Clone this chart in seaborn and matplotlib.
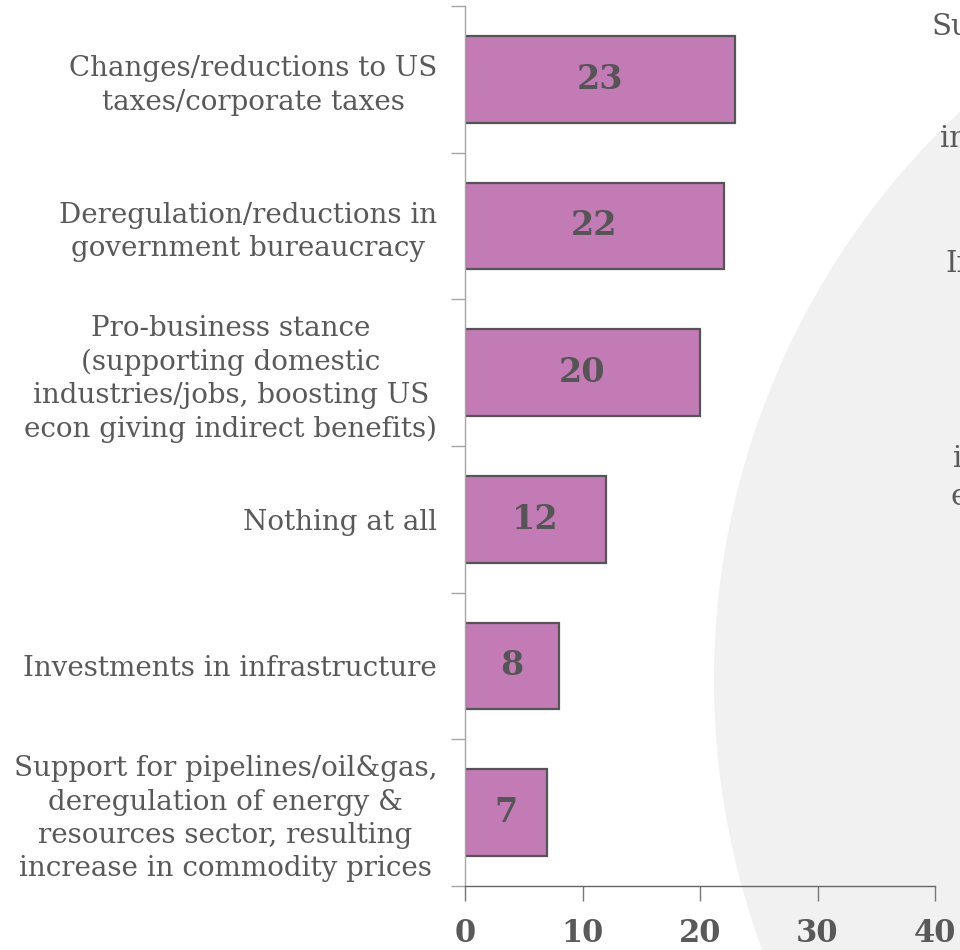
import matplotlib
matplotlib.use("Agg")
import matplotlib.pyplot as plt
from matplotlib.patches import Ellipse
from matplotlib.ticker import FixedLocator
import seaborn as sns
import numpy as np

# --- data ---
categories = [
    "Changes/reductions to US\ntaxes/corporate taxes",
    "Deregulation/reductions in\ngovernment bureaucracy",
    "Pro-business stance\n(supporting domestic\nindustries/jobs, boosting US\necon giving indirect benefits)",
    "Nothing at all",
    "Investments in infrastructure",
    "Support for pipelines/oil&gas,\nderegulation of energy &\nresources sector, resulting\nincrease in commodity prices",
]
values = [23, 22, 20, 12, 8, 7]
x_ticks = [0, 10, 20, 30, 40]

# cut-off labels of the neighbouring chart at the right edge
edge_fragments = ["Su", "in", "In", "i", "e"]

BAR = "#c27bb5"
EDGE = "#555555"
TEXT = "#595959"

sns.set_style("white")
plt.rcParams["font.family"] = ["DejaVu Serif"]

fig = plt.figure(figsize=(9.6, 9.5), dpi=100)
ax = fig.add_axes([465 / 960, 1 - 886 / 950, 470 / 960, 880 / 950])
ax.set_facecolor("none")

# big light grey disc in the background, right side
W, H = 960, 950
disc = Ellipse((1494 / W, 1 - 680 / H), 2 * 780 / W, 2 * 780 / H,
               transform=fig.transFigure, facecolor="#f1f1f1",
               edgecolor="none", zorder=-5)
fig.add_artist(disc)

sns.barplot(x=values, y=categories, orient="h", color=BAR, saturation=1,
            edgecolor=EDGE, linewidth=1.6, width=0.59, ax=ax)

ax.bar_label(ax.containers[0], label_type="center", fontsize=24,
             fontweight="bold", color=EDGE)

ax.set_xlim(0, 40)
ax.set_ylim(len(categories) - 0.5, -0.5)
ax.set_xticks(x_ticks)
ax.set_xticklabels([str(t) for t in x_ticks], fontsize=22,
                   fontweight="bold", color=TEXT)
ax.set_yticklabels(categories, fontsize=20, color=TEXT,
                   multialignment="center", linespacing=1.3)

# ticks at the category boundaries
ax.yaxis.set_minor_locator(FixedLocator(np.arange(-0.5, len(categories), 1)))
ax.tick_params(axis="y", which="major", length=0, pad=20)
ax.tick_params(axis="y", which="minor", length=10, width=1, color="#a6a6a6",
               left=True)
ax.tick_params(axis="x", length=11, width=1, color="#777777", pad=12,
               bottom=True)

ax.set_xlabel("")
ax.set_ylabel("")
for side in ["top", "right"]:
    ax.spines[side].set_visible(False)
ax.spines["left"].set_color("#a6a6a6")
ax.spines["bottom"].set_color("#666666")
ax.spines["left"].set_linewidth(1)
ax.spines["bottom"].set_linewidth(1)

frag_pos = [(932, 35), (940, 147), (945, 272), (953, 467), (950, 505)]
for txt, (px, py) in zip(edge_fragments, frag_pos):
    fig.text(px / W, 1 - py / H, txt, fontsize=21, color=TEXT,
             ha="left", va="baseline")

fig.savefig("out.png", dpi=100)
